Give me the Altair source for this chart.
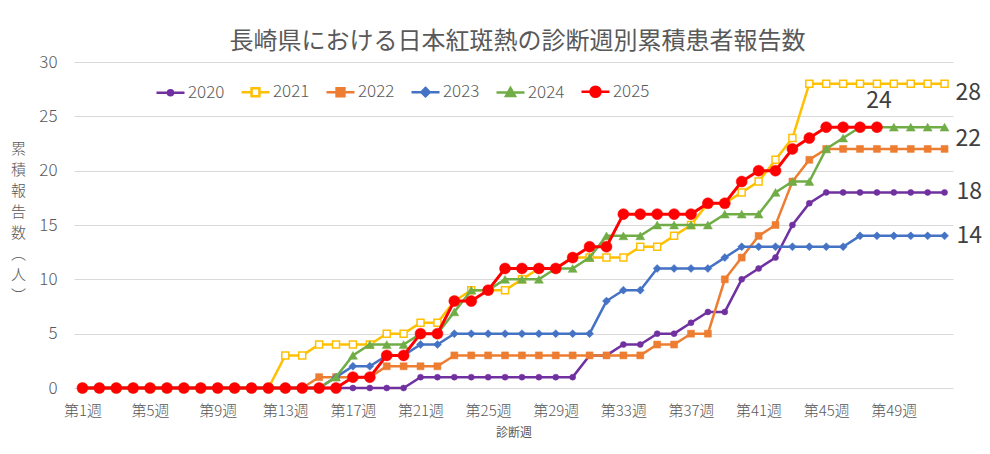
import altair as alt
import pandas as pd

# Weekly cumulative reports of Japanese spotted fever, Nagasaki
weeks = list(range(1, 53))
years = ['2020', '2021', '2022', '2023', '2024', '2025']

cases_2020 = [0] * 20 + [1] * 10 + [3, 3, 4, 4, 5, 5, 6, 7, 7, 10, 11, 12, 15, 17] + [18] * 8
cases_2021 = ([0] * 12 + [3, 3, 4, 4, 4, 4, 5, 5, 6, 6]
              + [8, 9, 9, 9, 10, 11, 11, 12, 12, 12, 12, 13, 13, 14, 15, 17, 17, 18, 19, 21, 23]
              + [28] * 9)
cases_2022 = [0] * 14 + [1] * 4 + [2] * 4 + [3] * 12 + [4, 4, 5, 5, 10, 12, 14, 15, 19, 21] + [22] * 8
cases_2023 = ([0] * 15 + [1, 2, 2, 3, 3, 4, 4] + [5] * 9
              + [8, 9, 9, 11, 11, 11, 11, 12] + [13] * 7 + [14] * 6)
cases_2024 = ([0] * 15 + [1, 3, 4, 4, 4, 5, 5, 7, 9, 9, 10, 10, 10, 11, 11, 12, 14, 14, 14]
              + [15, 15, 15, 15, 16, 16, 16, 18, 19, 19, 22, 23] + [24] * 6)
cases_2025 = ([0] * 16 + [1, 1, 3, 3, 5, 5, 8, 8, 9, 11, 11, 11, 11, 12, 13, 13]
              + [16, 16, 16, 16, 16, 17, 17, 19, 20, 20, 22, 23, 24, 24, 24, 24])

series = dict(zip(years, [cases_2020, cases_2021, cases_2022, cases_2023, cases_2024, cases_2025]))

colors = ['#7030A0', '#FFC000', '#ED7D31', '#4472C4', '#70AD47', '#FF0000']
fills = ['#7030A0', '#FFFFFF', '#ED7D31', '#4472C4', '#70AD47', '#FF0000']
shapes = ['circle', 'square', 'square', 'diamond', 'triangle-up', 'circle']
sizes = [36, 49, 49, 64, 81, 121]
line_widths = [2.5, 2.5, 2.5, 2.5, 2.5, 3]

# legend glyphs: a short line with the marker in the middle
legend_paths = [
    'M-1,0L1,0M-0.18,0A0.18,0.18,0,1,0,0.18,0A0.18,0.18,0,1,0,-0.18,0Z',
    'M-1,0L-0.28,0M0.28,0L1,0M-0.28,-0.28L0.28,-0.28L0.28,0.28L-0.28,0.28Z',
    'M-1,0L1,0M-0.28,-0.28L0.28,-0.28L0.28,0.28L-0.28,0.28Z',
    'M-1,0L1,0M0,-0.3L0.3,0L0,0.3L-0.3,0Z',
    'M-1,0L1,0M0,-0.32L0.32,0.25L-0.32,0.25Z',
    'M-1,0L1,0M-0.36,0A0.36,0.36,0,1,0,0.36,0A0.36,0.36,0,1,0,-0.36,0Z',
]

FONT = 'Noto Sans CJK JP'
GRAY = '#595959'

x_enc = alt.X(
    '週:Q',
    scale=alt.Scale(domain=[0.5, 52.5], nice=False, zero=False),
    axis=alt.Axis(
        values=list(range(1, 53, 4)),
        labelExpr="'第' + datum.value + '週'",
        grid=False, ticks=False, domain=False,
        labelFont=FONT, labelFontSize=15, labelFontWeight=300, labelColor=GRAY, labelPadding=15,
        title='診断週', titleFont=FONT, titleFontSize=12, titleColor=GRAY,
        titleFontWeight='normal', titlePadding=9,
    ),
)
y_enc = alt.Y(
    '患者数:Q',
    scale=alt.Scale(domain=[0, 30], nice=False),
    axis=alt.Axis(
        values=[0, 5, 10, 15, 20, 25, 30],
        grid=True, gridColor='#D9D9D9', domain=False, ticks=False,
        labelFont=FONT, labelFontSize=17, labelFontWeight=300, labelColor=GRAY, labelPadding=17,
        title=['累', '積', '報', '告', '数', '︵', '人', '︶'],
        titleAngle=0, titleFont=FONT, titleFontSize=15, titleColor=GRAY,
        titleFontWeight=300, titleLineHeight=21, titleBaseline='top',
        titleAlign='center', titleX=-56, titleY=79,
    ),
)

layers = []
for i, year in enumerate(years):
    vals = series[year]
    df = pd.DataFrame({'週': weeks[:len(vals)], '患者数': vals, '年': year})
    base = alt.Chart(df).encode(x=x_enc, y=y_enc)
    layers.append(base.mark_line(color=colors[i], strokeWidth=line_widths[i]))
    layers.append(base.mark_point(
        shape=shapes[i], size=sizes[i], filled=True, fill=fills[i],
        stroke=colors[i], strokeWidth=1.5 if year == '2021' else 0.5, opacity=1,
    ))

# invisible layer that only carries the legend
legend_df = pd.DataFrame({'週': [1] * 6, '患者数': [0] * 6, '年': years})
legend_layer = alt.Chart(legend_df).mark_point(opacity=0).encode(
    x=x_enc, y=y_enc,
    stroke=alt.Stroke('年:N', scale=alt.Scale(domain=years, range=colors), legend=None),
    fill=alt.Fill('年:N', scale=alt.Scale(domain=years, range=fills), legend=None),
    shape=alt.Shape(
        '年:N', scale=alt.Scale(domain=years, range=legend_paths),
        legend=alt.Legend(
            title=None, orient='none', legendX=81, legendY=14,
            direction='horizontal', columns=6, columnPadding=11,
            symbolSize=784, symbolStrokeWidth=2.5, symbolOpacity=1,
            labelFont=FONT, labelFontSize=17, labelFontWeight=300, labelColor=GRAY, labelOffset=2,
        ),
    ),
)
layers.append(legend_layer)

# end-of-series value labels
label_specs = [('2021', 11, 9, 'left'), ('2022', 11, -10, 'left'), ('2020', 12, 0, 'left'),
               ('2023', 12, 0, 'left'), ('2025', 2, -26, 'center')]
for year, dx, dy, align in label_specs:
    vals = series[year]
    end = pd.DataFrame({'週': [len(vals)], '患者数': [vals[-1]]})
    layers.append(
        alt.Chart(end).mark_text(
            font=FONT, fontSize=23, color='#404040', align=align, baseline='middle', dx=dx, dy=dy,
        ).encode(x=x_enc, y=y_enc, text='患者数:Q')
    )

chart = alt.layer(*layers).properties(
    width=879,
    height=326,
    autosize=alt.AutoSizeParams(type='none'),
    padding={'left': 66, 'top': 54, 'right': 29, 'bottom': 58},
    title=alt.TitleParams(
        '長崎県における日本紅斑熱の診断週別累積患者報告数',
        font=FONT, fontSize=24, color=GRAY, fontWeight='normal', anchor='middle',
        offset=8, dy=9, dx=4,
    ),
).configure_view(stroke=None)

chart.save('out.html', embed_options={'renderer': 'svg', 'actions': False})
